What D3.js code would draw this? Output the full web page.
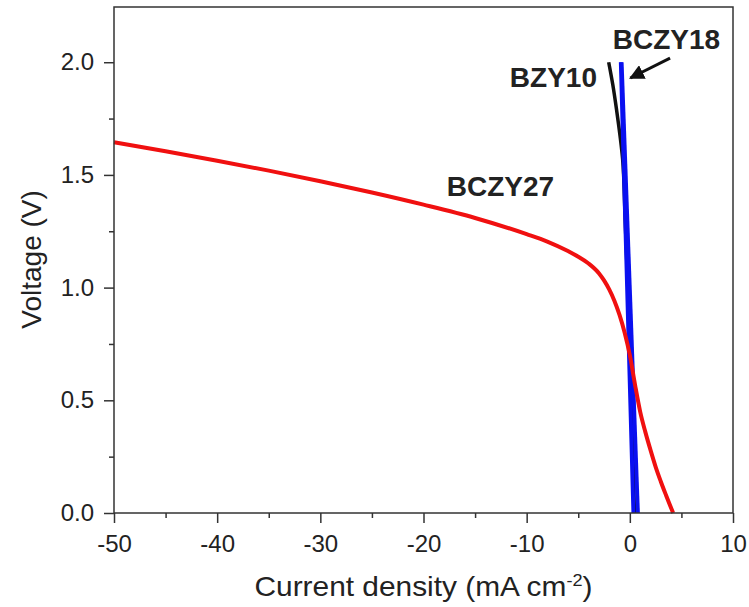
<!DOCTYPE html>
<html>
<head>
<meta charset="utf-8">
<script src="https://cdn.jsdelivr.net/npm/d3@7"></script>
<style>
  body { margin: 0; background: #fff; }
  text { font-family: "Liberation Sans", Arial, sans-serif; fill: #222; }
</style>
</head>
<body>
<svg id="chart" width="749" height="607"></svg>
<script>
// Series values: [current density (mA cm-2), voltage (V)]
const bczy27 = [[-50, 1.645], [-45, 1.605], [-40, 1.563], [-35, 1.519], [-30, 1.472], [-25, 1.422],
                [-20, 1.368], [-15, 1.309], [-10, 1.237], [-8, 1.204], [-6, 1.162], [-5, 1.137],
                [-4, 1.107], [-3, 1.064], [-2.5, 1.032], [-2, 0.992], [-1.5, 0.942], [-1, 0.879],
                [-0.5, 0.800], [0, 0.700], [0.5, 0.570], [1, 0.450], [1.5, 0.360], [2, 0.280],
                [2.5, 0.205], [3, 0.140], [3.5, 0.080], [4.2, 0.0]];
const bzy10 = [[-2.05, 2.0], [-1.65, 1.9], [-1.29, 1.79], [-0.7, 1.57], [-0.45, 1.3],
               [-0.2, 1.0], [0.15, 0.5], [0.45, 0.0]];
const bczy18a = [[-0.87, 2.0], [-0.26, 1.0], [0.35, 0.0]];
const bczy18b = [[-0.80, 2.0], [-0.01, 1.0], [0.78, 0.0]];

const xTicks = [-50, -40, -30, -20, -10, 0, 10],
      xMinor = [-45, -35, -25, -15, -5, 5];
const yTicks = [0, 0.5, 1.0, 1.5, 2.0],
      yMinor = [0.25, 0.75, 1.25, 1.75];

// Labels placed in data units
const labels = [
  {text: 'BCZY18', x: -1.65, y: 2.058},
  {text: 'BZY10', x: -11.63, y: 1.889},
  {text: 'BCZY27', x: -17.74, y: 1.406}
];
const arrow = {x1: 3.9, y1: 2.018, x2: 0.05, y2: 1.93};

const margin = {top: 7, right: 16, bottom: 94, left: 114},
      width = 749 - margin.left - margin.right,
      height = 607 - margin.top - margin.bottom;

const svg = d3.select('#chart');
const g = svg.append('g').attr('transform', `translate(${margin.left},${margin.top})`);

const x = d3.scaleLinear().domain([-50, 10]).range([0, width]);
const y = d3.scaleLinear().domain([0, 2.245]).range([height, 0]);

const axisColor = '#333';

// Curves
const lineX = d3.line().x(d => x(d[0])).y(d => y(d[1])).curve(d3.curveMonotoneX);
const lineY = d3.line().x(d => x(d[0])).y(d => y(d[1])).curve(d3.curveMonotoneY);
const lineStraight = d3.line().x(d => x(d[0])).y(d => y(d[1]));

g.append('path').datum(bzy10).attr('d', lineY)
  .attr('fill', 'none').attr('stroke', '#111').attr('stroke-width', 3.5);
[bczy18a, bczy18b].forEach(s => {
  g.append('path').datum(s).attr('d', lineStraight)
    .attr('fill', 'none').attr('stroke', '#0a10f0').attr('stroke-width', 4);
});
g.append('path').datum(bczy27).attr('d', lineX)
  .attr('fill', 'none').attr('stroke', '#f01010').attr('stroke-width', 4);

// Frame
g.append('rect').attr('width', width).attr('height', height)
  .attr('fill', 'none').attr('stroke', axisColor).attr('stroke-width', 1.5);

// Axes (hyphen minus, as in the original)
const xAxis = g.append('g').attr('transform', `translate(0,${height})`)
  .call(d3.axisBottom(x).tickValues(xTicks).tickSize(10).tickSizeOuter(0).tickPadding(12)
    .tickFormat(d => String(d)));
const xAxisMinor = g.append('g').attr('transform', `translate(0,${height})`)
  .call(d3.axisBottom(x).tickValues(xMinor).tickSize(5).tickFormat(''));
const yAxis = g.append('g')
  .call(d3.axisLeft(y).tickValues(yTicks).tickSize(10).tickSizeOuter(0).tickPadding(10)
    .tickFormat(d => d.toFixed(1)));
const yAxisMinor = g.append('g')
  .call(d3.axisLeft(y).tickValues(yMinor).tickSize(5).tickFormat(''));

[xAxis, xAxisMinor, yAxis, yAxisMinor].forEach(a => {
  a.select('.domain').remove();
  a.selectAll('line').attr('stroke', axisColor).attr('stroke-width', 1.5);
  a.selectAll('text').attr('font-size', 24).attr('fill', '#222')
    .style('font-family', '"Liberation Sans", Arial, sans-serif');
});

// Axis titles
const xTitle = svg.append('text')
  .attr('x', margin.left + x(-20)).attr('y', 596)
  .attr('text-anchor', 'middle').attr('font-size', 28)
  .attr('textLength', 338).attr('lengthAdjust', 'spacingAndGlyphs');
xTitle.append('tspan').text('Current density (mA cm');
xTitle.append('tspan').attr('dy', -10).attr('font-size', 17).text('-2');
xTitle.append('tspan').attr('dy', 10).text(')');

svg.append('text')
  .attr('transform', `translate(41,${margin.top + y(1.125)}) rotate(-90)`)
  .attr('text-anchor', 'middle').attr('font-size', 28)
  .text('Voltage (V)');

// Series labels
g.selectAll('.label')
  .data(labels)
  .enter()
  .append('text')
  .classed('label', true)
  .attr('x', d => x(d.x))
  .attr('y', d => y(d.y))
  .attr('font-size', 28)
  .attr('font-weight', 'bold')
  .attr('fill', '#111')
  .text(d => d.text);

// Arrow pointing at BCZY18
svg.append('defs').append('marker')
  .attr('id', 'head').attr('viewBox', '0 0 10 10')
  .attr('refX', 9).attr('refY', 5)
  .attr('markerWidth', 5).attr('markerHeight', 5)
  .attr('orient', 'auto')
  .append('path').attr('d', 'M0,0 L10,5 L0,10 Z').attr('fill', '#111');
g.append('line')
  .attr('x1', x(arrow.x1)).attr('y1', y(arrow.y1))
  .attr('x2', x(arrow.x2)).attr('y2', y(arrow.y2))
  .attr('stroke', '#111').attr('stroke-width', 3)
  .attr('marker-end', 'url(#head)');
</script>
</body>
</html>
